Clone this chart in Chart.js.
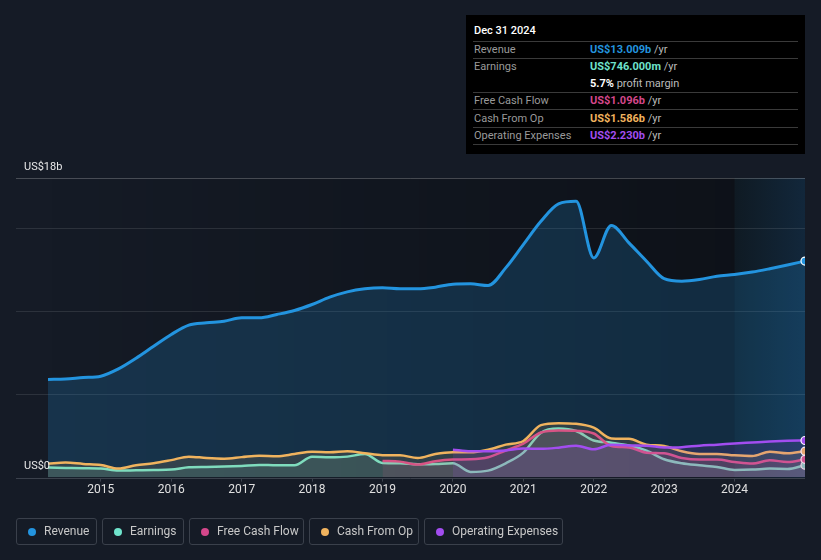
<!DOCTYPE html>
<html><head><meta charset="utf-8">
<script src="https://cdn.jsdelivr.net/npm/chart.js@4.4.1/dist/chart.umd.min.js"></script>
<style>
body{margin:0;background:#151b26;font-family:Roboto,"Noto Sans",sans-serif;}
#wrap{position:relative;width:821px;height:560px;overflow:hidden;}
#c{position:absolute;left:0;top:0;}
#tip{position:absolute;left:466px;top:15px;width:339px;height:139px;background:#000;color:#fff;font-size:11px;}
#tip .t{position:absolute;left:8px;top:3px;line-height:26px;color:#fff;font-size:11px;font-weight:500;}
#tip .ln{position:absolute;left:7px;width:325px;height:1px;background:#3a3a3a;}
#tip .r{position:absolute;left:8px;height:17px;line-height:17px;width:320px;}
#tip .lab{position:absolute;left:0;color:#9a9a9a;}
#tip .val{position:absolute;left:116px;color:#bbb;}
#tip .val b{font-weight:700;}
#legend{position:absolute;left:0;top:518px;height:27px;width:821px;}
.li{position:absolute;top:0;height:27px;border:1px solid #3a404b;border-radius:3px;box-sizing:border-box;color:#c8c8c8;font-size:12px;line-height:25px;}
.li i{position:absolute;left:11px;top:8.5px;width:8px;height:8px;border-radius:50%;}
.li span{position:absolute;left:27px;white-space:nowrap;}
</style>
</head><body>
<div id="wrap">
<canvas id="c" width="821" height="560"></canvas>
<div id="tip">
  <div class="t">Dec 31 2024</div>
  <div class="ln" style="top:26px"></div>
  <div class="r" style="top:26px"><span class="lab">Revenue</span><span class="val"><b style="color:#2394df">US$13.009b</b> /yr</span></div>
  <div class="ln" style="top:43px"></div>
  <div class="r" style="top:43px"><span class="lab">Earnings</span><span class="val"><b style="color:#6fe3cc">US$746.000m</b> /yr</span></div>
  <div class="r" style="top:60px"><span class="val"><b style="color:#fff">5.7%</b> profit margin</span></div>
  <div class="ln" style="top:77px"></div>
  <div class="r" style="top:77px"><span class="lab">Free Cash Flow</span><span class="val"><b style="color:#d4478b">US$1.096b</b> /yr</span></div>
  <div class="ln" style="top:94px"></div>
  <div class="r" style="top:95px"><span class="lab">Cash From Op</span><span class="val"><b style="color:#f0b35e">US$1.586b</b> /yr</span></div>
  <div class="ln" style="top:112px"></div>
  <div class="r" style="top:112px"><span class="lab">Operating Expenses</span><span class="val"><b style="color:#a24df0">US$2.230b</b> /yr</span></div>
  <div class="ln" style="top:129px"></div>
</div>
<div id="legend"></div>
</div>
<script>
const quarterEnds = [
 '2014-03','2014-06','2014-09','2014-12',
 '2015-03','2015-06','2015-09','2015-12',
 '2016-03','2016-06','2016-09','2016-12',
 '2017-03','2017-06','2017-09','2017-12',
 '2018-03','2018-06','2018-09','2018-12',
 '2019-03','2019-06','2019-09','2019-12',
 '2020-03','2020-06','2020-09','2020-12',
 '2021-03','2021-06','2021-09','2021-12',
 '2022-03','2022-06','2022-09','2022-12',
 '2023-03','2023-06','2023-09','2023-12',
 '2024-03','2024-06','2024-09','2024-12'
];
// values in US$ billions
const revenue = [5.89,5.93,6.01,6.09,6.53,7.17,7.89,8.6,9.16,9.3,9.4,9.6,9.6,9.8,10.04,10.4,10.84,11.16,11.34,11.4,11.34,11.34,11.44,11.62,11.64,11.54,12.6,14.0,15.4,16.45,16.6,13.2,15.15,14.1,13.0,11.95,11.8,11.9,12.1,12.2,12.35,12.55,12.77,13.009];
const earnings = [0.6,0.58,0.56,0.54,0.42,0.44,0.46,0.48,0.62,0.64,0.66,0.7,0.76,0.74,0.74,1.26,1.22,1.26,1.42,0.88,0.86,0.8,0.82,0.86,0.34,0.42,0.86,1.5,2.7,2.95,2.8,2.23,2.1,1.93,1.62,1.1,0.86,0.74,0.64,0.46,0.48,0.54,0.52,0.746];
const freeCashFlow = [null,null,null,null,null,null,null,null,null,null,null,null,null,null,null,null,null,null,null,1.0,0.96,0.78,0.98,1.08,1.1,1.22,1.63,2.04,2.71,2.83,2.81,2.65,1.9,1.81,1.5,1.46,1.18,1.08,1.08,0.94,0.84,1.04,0.94,1.096];
const cashFromOp = [0.84,0.9,0.82,0.76,0.54,0.74,0.86,1.05,1.26,1.18,1.14,1.23,1.32,1.28,1.42,1.56,1.52,1.58,1.47,1.35,1.34,1.18,1.42,1.52,1.52,1.68,1.98,2.2,3.15,3.27,3.23,3.0,2.35,2.33,1.98,1.9,1.58,1.42,1.42,1.34,1.3,1.56,1.46,1.586];
const operatingExpenses = [null,null,null,null,null,null,null,null,null,null,null,null,null,null,null,null,null,null,null,null,null,null,null,1.68,1.58,1.58,1.63,1.75,1.73,1.8,1.92,1.7,1.98,1.93,1.92,1.81,1.83,1.92,1.98,2.05,2.11,2.17,2.21,2.23];
const tickYears = [2015,2016,2017,2018,2019,2020,2021,2022,2023,2024];
const yTickValues = [0,5,10,15,18];
const yLabels = {0:'US$0',18:'US$18b'};
const highlightFrom = 2024;

const seriesNames = ['Revenue','Earnings','Free Cash Flow','Cash From Op','Operating Expenses'];
const seriesColors = ['#2394df','#6fe3cc','#d4478b','#f0b35e','#a24df0'];
const seriesData = [revenue,earnings,freeCashFlow,cashFromOp,operatingExpenses];

function toYear(s){const [y,m]=s.split('-').map(Number);return y+m/12;}
function rgba(hex,a){const n=parseInt(hex.slice(1),16);return `rgba(${n>>16},${(n>>8)&255},${n&255},${a})`;}

const datasets = seriesData.map((arr,k)=>({
  label:seriesNames[k],
  data:arr.map((v,i)=>({x:toYear(quarterEnds[i]),y:v})),
  borderColor:seriesColors[k],
  backgroundColor:k===0?rgba(seriesColors[k],0.2):rgba(seriesColors[k],0.13),
  borderWidth:k===0?3:2.5,
  fill:'origin',
  cubicInterpolationMode:'monotone',
  pointRadius:ctx=>ctx.dataIndex===arr.length-1?4:0,
  pointHoverRadius:0,
  pointBackgroundColor:seriesColors[k],
  pointBorderColor:'#ffffff',
  pointBorderWidth:1.2,
  order:k===4?0:(5-k)
}));

const bgPlugin={
  id:'bg',
  beforeDatasetsDraw(chart){
    const {ctx,chartArea:a,scales:{x,y}}=chart;
    ctx.save();
    let g=ctx.createLinearGradient(a.left,0,a.right,0);
    g.addColorStop(0,'rgba(0,0,0,0)');g.addColorStop(1,'rgba(0,0,0,0.38)');
    ctx.fillStyle=g;ctx.fillRect(a.left,a.top,a.right-a.left,a.bottom-a.top);
    const hx=x.getPixelForValue(highlightFrom);
    g=ctx.createLinearGradient(hx,0,a.right,0);
    g.addColorStop(0,'#0f1a23');g.addColorStop(1,'#12273b');
    ctx.fillStyle=g;ctx.fillRect(hx,a.top,a.right-hx,a.bottom-a.top);
    yTickValues.forEach(v=>{
      const py=Math.round(y.getPixelForValue(v))+0.5;
      ctx.strokeStyle=v===18?'rgba(255,255,255,0.22)':(v===0?'#3b414c':'rgba(255,255,255,0.1)');
      ctx.lineWidth=1;
      ctx.beginPath();ctx.moveTo(16,py);ctx.lineTo(a.right,py);ctx.stroke();
    });
    ctx.restore();
  },
  afterDraw(chart){
    const {ctx,scales:{y}}=chart;
    ctx.save();
    ctx.font='11px Roboto, "Noto Sans", sans-serif';
    ctx.fillStyle='#e8e8e8';ctx.textBaseline='middle';ctx.textAlign='left';
    Object.keys(yLabels).forEach(k=>{
      ctx.fillText(yLabels[k],24,y.getPixelForValue(Number(k))-11);
    });
    ctx.restore();
  }
};

new Chart(document.getElementById('c'),{
  type:'line',
  data:{datasets},
  options:{
    responsive:false,animation:false,
    layout:{padding:{left:48,right:16,top:178,bottom:62}},
    plugins:{legend:{display:false},tooltip:{enabled:false}},
    scales:{
      x:{type:'linear',min:toYear(quarterEnds[0]),max:toYear(quarterEnds[quarterEnds.length-1]),
        afterBuildTicks:s=>{s.ticks=tickYears.map(v=>({value:v}));},
        ticks:{color:'#e0e0e0',font:{size:12,family:'Roboto'},padding:1,callback:v=>String(v),autoSkip:false,maxRotation:0},
        grid:{drawOnChartArea:false,drawTicks:true,tickLength:4,color:'#3b414c'},
        border:{display:false}},
      y:{display:false,min:0,max:18}
    }
  },
  plugins:[bgPlugin]
});

const legend=document.getElementById('legend');
const legendLeft=[16,102,189,309,424], legendWidth=[81,82,115,110,139];
seriesNames.forEach((n,k)=>{
  const d=document.createElement('div');d.className='li';
  d.style.left=legendLeft[k]+'px';d.style.width=legendWidth[k]+'px';
  d.innerHTML=`<i style="background:${seriesColors[k]}"></i><span>${n}</span>`;
  legend.appendChild(d);
});
</script>
</body></html>
